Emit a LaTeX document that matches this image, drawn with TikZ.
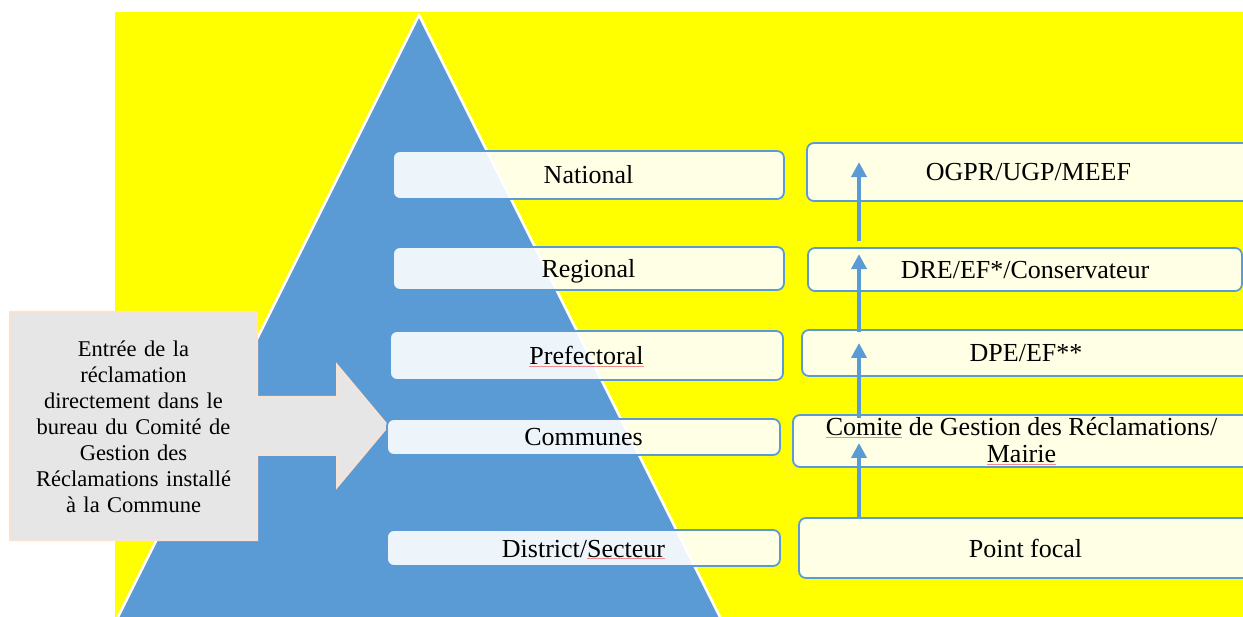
\documentclass[tikz,border=0pt]{standalone}
\usepackage{fontspec}
\setmainfont{Liberation Serif}
\usetikzlibrary{arrows.meta,calc}
\definecolor{pyrblue}{RGB}{91,155,213}
\definecolor{calloutfill}{RGB}{231,230,230}
\definecolor{calloutedge}{RGB}{250,226,210}
\definecolor{spellred}{RGB}{240,140,140}
\definecolor{bgyellow}{RGB}{255,255,0}
% spell-check style underline under a word
\newcommand\spellmark[1]{\setbox0=\hbox{#1}\rlap{\textcolor{spellred}{\rule[-2pt]{\wd0}{0.6pt}}}\box0\relax}

\begin{document}
\begin{tikzpicture}[x=1pt,y=-1pt,
  level/.style={draw=pyrblue, line width=1.8pt, rounded corners=7pt, fill=white,
    fill opacity=0.9, text opacity=1, inner sep=0pt,
    font=\fontsize{26}{27}\selectfont, align=center},
  lvl/.style={level, text height=18pt, text depth=0pt},
  flow/.style={draw=pyrblue, line width=4pt, -{Triangle[width=15pt,length=15pt]}},
]
\useasboundingbox (0,0) rectangle (1243,617);
\clip (0,0) rectangle (1243,617);
\fill[white] (0,0) rectangle (1243,617);
\fill[bgyellow] (115,12) rectangle (1243,617);

% pyramid
\filldraw[fill=pyrblue, draw=white, line width=2.5pt, line join=round]
  (419,15) -- (112,629) -- (726,629) -- cycle;

% entry callout
\filldraw[fill=calloutfill, draw=calloutedge, line width=2pt]
  (10,312) -- (257,312) -- (257,397) -- (337,397) -- (337,365) -- (388,426)
  -- (337,487) -- (337,455) -- (257,455) -- (257,540) -- (10,540) -- cycle;
\node[font=\fontsize{22.5}{26}\selectfont, align=center, text width=240pt] (entry)
  at (133.5,427) {Entrée de la\\réclamation\\directement dans le\\bureau du Comité de\\Gestion des\\Réclamations installé\\à la Commune};

% administrative levels
\node[lvl, minimum width=391pt, minimum height=48pt] (nat) at (588.5,175) {National};
\node[lvl, minimum width=391pt, minimum height=43pt] (reg) at (588.5,268.5) {Regional};
\node[lvl, minimum width=393pt, minimum height=49pt] (pre) at (586.5,355.5) {\spellmark{Prefectoral}};
\node[lvl, minimum width=393pt, minimum height=36pt] (com) at (583.5,437) {Communes};
\node[lvl, minimum width=393pt, minimum height=36pt] (dis) at (583.5,548) {District/\spellmark{Secteur}};

% responsible bodies
\node[lvl, minimum width=443pt, minimum height=58pt] (ogpr) at (1028.5,172) {OGPR/UGP/MEEF};
\node[lvl, minimum width=434pt, minimum height=43pt] (dre) at (1025,269.5) {DRE/EF*/Conservateur};
\node[lvl, minimum width=448pt, minimum height=46pt] (dpe) at (1026,353) {DPE/EF**};
\node[level, minimum width=457pt, minimum height=52pt] (cgr) at (1021.5,441)
  {\spellmark{Comite} de Gestion des Réclamations/\\\spellmark{Mairie}};
\node[lvl, minimum width=453pt, minimum height=60pt] (pf) at (1025.5,548) {Point focal};

% escalation arrows
\coordinate (col) at (859,0);
\draw[flow] (pf.north -| col) -- ($(cgr.center -| col)+(0,2)$);
\draw[flow] ($(cgr.north -| col)+(0,4)$) -- ($(dpe.center -| col)+(0,-10)$);
\draw[flow] ($(dpe.north -| col)+(0,3)$) -- ($(dre.north -| col)+(0,7)$);
\draw[flow] ($(dre.north -| col)+(0,-6)$) -- ($(ogpr.north -| col)+(0,20)$);
\end{tikzpicture}
\end{document}
